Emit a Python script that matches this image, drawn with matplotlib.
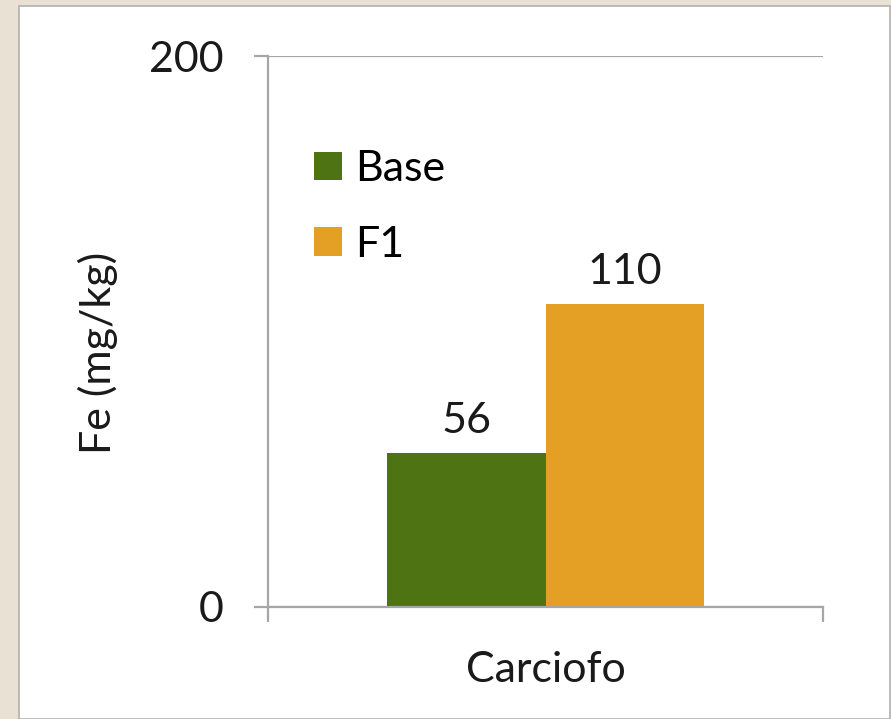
import matplotlib.pyplot as plt
from matplotlib.patches import Rectangle

categories = ["Carciofo"]
series_names = ["Base", "F1"]
base_values = [56]
f1_values = [110]
colors = ["#4d7312", "#e3a024"]

plt.rcParams['font.family'] = ['Lato', 'DejaVu Sans']
FS = 31

fig = plt.figure(figsize=(8.91, 7.19), dpi=100)
fig.patch.set_facecolor('#e9e2d4')

# white slide panel behind the chart
panel = Rectangle((19 / 891, 0), 871 / 891, 713 / 719, transform=fig.transFigure,
                  facecolor='white', edgecolor='#b0b0b0', linewidth=1.2, zorder=-5)
fig.patches.append(panel)

ax = fig.add_axes([268 / 891, 112 / 719, 555 / 891, 551 / 719])
ax.set_facecolor('none')

width = 0.285
x = list(range(len(categories)))
b1 = ax.bar([i - width / 2 for i in x], base_values, width, color=colors[0], label=series_names[0])
b2 = ax.bar([i + width / 2 for i in x], f1_values, width, color=colors[1], label=series_names[1])

for bars, vals in [(b1, base_values), (b2, f1_values)]:
    for bar, v in zip(bars, vals):
        ax.annotate(str(v), (bar.get_x() + bar.get_width() / 2, v), xytext=(0, 9),
                    textcoords='offset points', ha='center', va='bottom', fontsize=FS, color='#1a1a1a')

ax.set_xlim(-0.5, 0.5)
ax.set_ylim(0, 200)
ax.set_yticks([0, 200])
ax.yaxis.grid(True, color='#a6a6a6', linewidth=1.6)
ax.set_axisbelow(True)

ax.set_xticks(x)
ax.set_xticklabels(categories, fontsize=FS, color='#1a1a1a')
ax.tick_params(axis='x', which='major', length=0, pad=32)
ax.set_xticks([-0.5, 0.5], minor=True)
ax.tick_params(axis='x', which='minor', length=11, width=1.6, color='#a6a6a6')
ax.tick_params(axis='y', length=10, width=1.6, color='#a6a6a6', labelsize=FS,
               labelcolor='#1a1a1a', pad=22)

for s in ['top', 'right']:
    ax.spines[s].set_visible(False)
for s in ['left', 'bottom']:
    ax.spines[s].set_color('#a6a6a6')
    ax.spines[s].set_linewidth(1.6)

ax.set_ylabel('Fe (mg/kg)', fontsize=FS, color='#1a1a1a')
ax.yaxis.set_label_coords(-0.27, 0.461)

ax.legend(loc='upper left', bbox_to_anchor=(314 / 891, 1 - 150 / 719), bbox_transform=fig.transFigure,
          frameon=False, fontsize=FS, handlelength=0.65, handleheight=0.65,
          handletextpad=0.3, labelspacing=0.88, borderpad=0, borderaxespad=0)

fig.savefig('out.png', dpi=100, facecolor=fig.get_facecolor())
